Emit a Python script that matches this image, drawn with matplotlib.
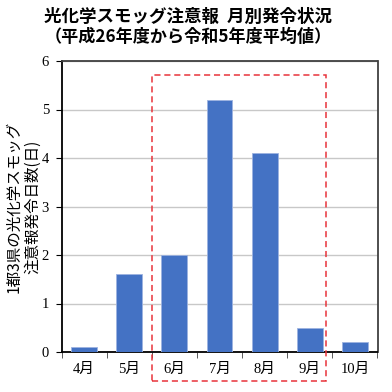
import matplotlib.pyplot as plt
from matplotlib.patches import Rectangle

plt.rcParams['font.family'] = ['Noto Sans CJK JP', 'DejaVu Sans']

months = ['4月', '5月', '6月', '7月', '8月', '9月', '10月']
days = [0.1, 1.6, 2.0, 5.2, 4.1, 0.5, 0.2]

fig = plt.figure(figsize=(3.92, 3.92), dpi=100)
ax = fig.add_axes([61.5 / 392, 1 - 352 / 392, 316 / 392, 291 / 392])

x = range(len(months))
ax.bar(x, days, width=0.57, color='#4472C4', edgecolor='#9DB3E0', linewidth=0.6, zorder=3)

ax.set_xlim(-0.5, len(months) - 0.5)
ax.set_ylim(0, 6)
ax.set_yticks(range(0, 7))
ax.grid(axis='y', color='#C8C8C8', linewidth=1, zorder=0)
ax.set_xticks(x)
ax.set_xticklabels(months)
ax.set_xticks([i + 0.5 for i in range(-1, len(months))], minor=True)
ax.tick_params(axis='x', which='major', length=0, pad=8)
ax.tick_params(axis='x', which='minor', length=4, direction='out', color='#404040')
ax.tick_params(axis='y', length=4, direction='out', pad=5)
for lab in ax.get_xticklabels() + ax.get_yticklabels():
    lab.set_family(['Liberation Serif', 'Noto Sans CJK JP'])
    lab.set_fontsize(10.5)

for s in ['left', 'bottom']:
    ax.spines[s].set_color('black')
    ax.spines[s].set_linewidth(1.3)
for s in ['top', 'right']:
    ax.spines[s].set_color('#404040')
    ax.spines[s].set_linewidth(1.3)

ax.set_ylabel('1都3県の光化学スモッグ\n注意報発令日数(日)', fontsize=11.2, linespacing=1.2)
ax.yaxis.set_label_coords(-0.063, 0.5)

box = Rectangle((1.51, -0.6), 5.36 - 1.51, 5.71 + 0.6, fill=False,
                edgecolor='#E8333A', linestyle=(0, (4, 2.5)), linewidth=1.1,
                clip_on=False, zorder=5)
ax.add_patch(box)

fig.text(0.48, 1 - 17 / 392, '光化学スモッグ注意報  月別発令状況', ha='center', va='center',
         fontsize=12.6, fontweight='bold')
fig.text(0.48, 1 - 37 / 392, '（平成26年度から令和5年度平均値）', ha='center', va='center',
         fontsize=12.3, fontweight='bold')

fig.savefig('out.png', dpi=100)
